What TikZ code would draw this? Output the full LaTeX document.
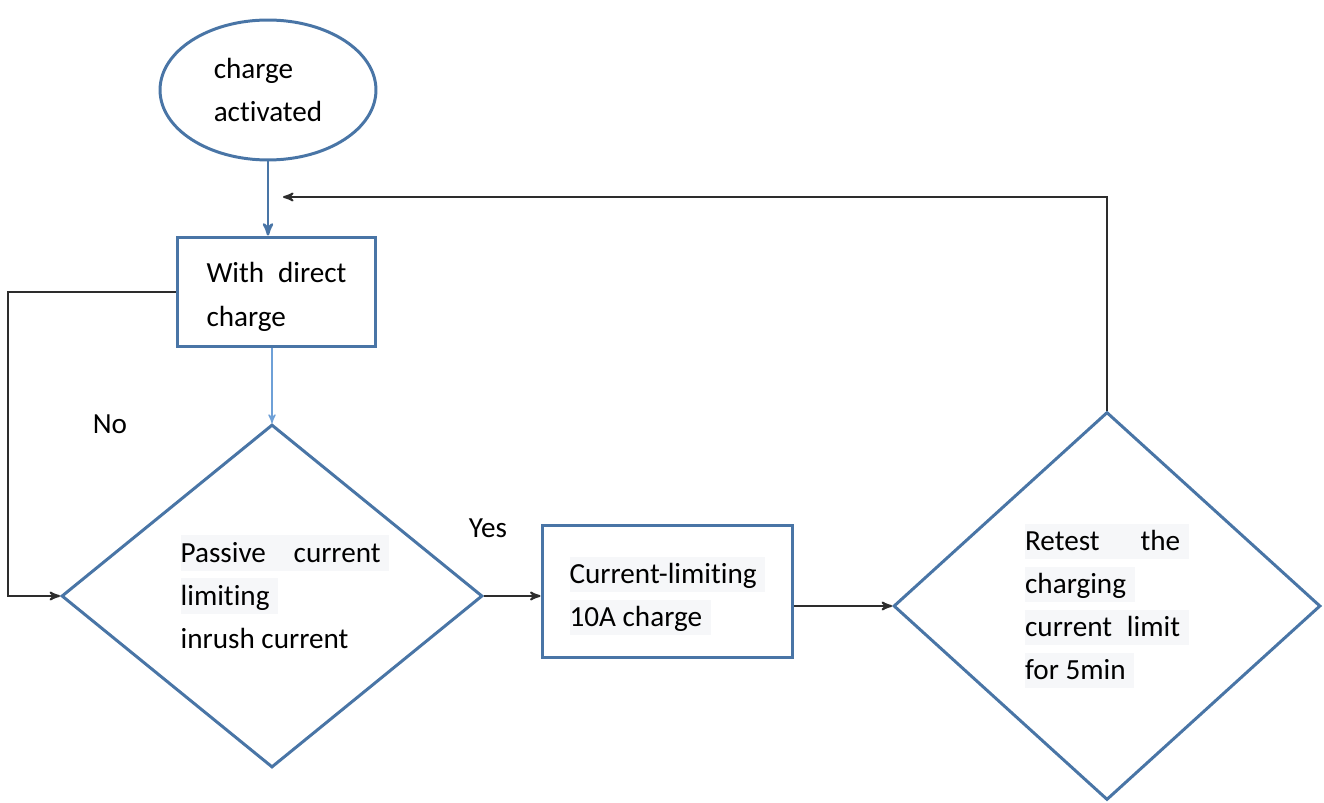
\documentclass[tikz,border=0pt]{standalone}
\usepackage{fontspec}
\setmainfont{Carlito}[Ligatures=NoCommon]
\usepackage{xcolor}
\usetikzlibrary{positioning}
\usetikzlibrary{shapes.geometric}
\usetikzlibrary{arrows}

\definecolor{shapeblue}{RGB}{73,117,166}
\definecolor{arrowgray}{RGB}{45,45,45}
\definecolor{lightarrow}{RGB}{110,160,215}
\definecolor{hlgray}{RGB}{246,247,249}

\newcommand{\hl}[1]{{\setlength{\fboxsep}{0pt}\colorbox{hlgray}{\rule[-0.3em]{0pt}{1.22em}#1\hspace{0.3em}}}}

\begin{document}
\begin{tikzpicture}[x=0.02cm, y=-0.02cm, >=stealth',
    outline/.style={draw=shapeblue, line width=1.7pt, align=left, inner sep=0pt,
      font=\fontsize{16.6}{24.5}\selectfont},
    flow/.style={->, draw=arrowgray, line width=1.1pt},
    tag/.style={font=\fontsize{16.6}{24.5}\selectfont}]
            \useasboundingbox (0,0) rectangle (1324,803);

            % Shapes
            \node[outline, ellipse, minimum width=4.32cm, minimum height=2.8cm] (start) at (268,90)
              {charge\\activated};
            \node[outline, rectangle, minimum width=3.98cm, minimum height=2.2cm] (direct) at (276.5,292)
              {\rule{0pt}{0.6cm}\makebox[2.8cm][s]{With direct}\\charge};
            \node[outline, diamond, minimum width=8.42cm, minimum height=6.86cm] (passive) at (272,596) {};
            \node[tag, align=left, inner sep=0pt] (passivetext) at (285,592)
              {\hl{\makebox[4.0cm][s]{Passive current}}\\\hl{limiting}\\inrush current};
            \node[outline, rectangle, minimum width=5.02cm, minimum height=2.66cm] (limit) at (667.5,591.5)
              {\rule{0pt}{0.72cm}\hl{Current-limiting}\\\hl{10A charge}};
            \node[outline, diamond, minimum width=8.54cm, minimum height=7.76cm] (retest) at (1107,606)
              {\hl{\makebox[3.1cm][s]{Retest the}}\\\hl{charging}\\\hl{\makebox[3.1cm][s]{current limit}}\\\hl{for 5min}};

            % Labels
            \node[tag] (no) at (110,424) {No};
            \node[tag] (yes) at (488,528) {Yes};

            % Turning points
            \coordinate (noleft) at (8,450);
            \coordinate (back) at (283,197);

            % Connectors
            \draw[->, draw=shapeblue, line width=1.4pt] (start.south) -- (start.south |- direct.north);
            \draw[->, draw=lightarrow, line width=0.8pt] (passive.north |- direct.south) -- (passive.north);
            \draw[flow] (direct.west) -| (noleft) |- (passive.west);
            \draw[flow] (passive.east) -- (passive.east -| limit.west);
            \draw[flow] (retest.west -| limit.east) -- (retest.west);
            \draw[flow] (retest.north) |- (back);
        \end{tikzpicture}
\end{document}
